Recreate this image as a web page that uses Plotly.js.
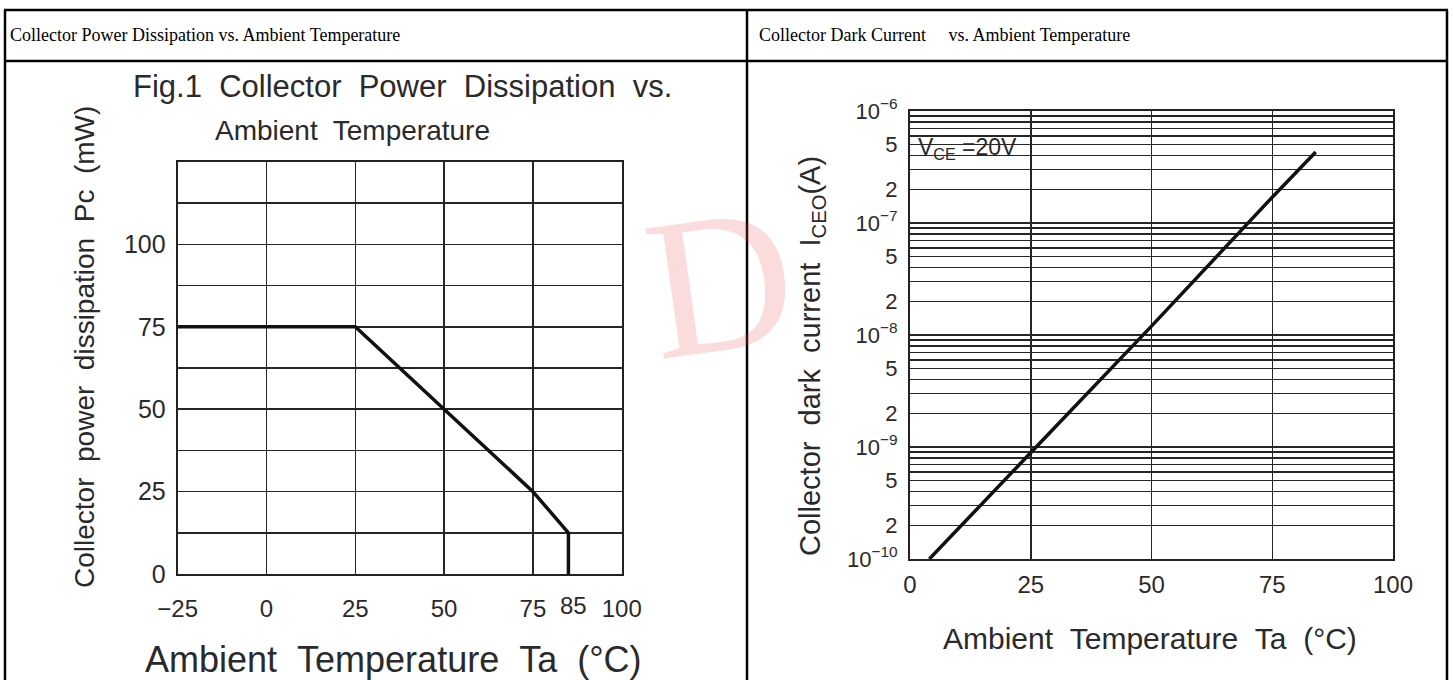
<!DOCTYPE html>
<html>
<head>
<meta charset="utf-8">
<script src="https://cdn.plot.ly/plotly-3.0.1.min.js"></script>
<style>
html,body{margin:0;padding:0;background:#ffffff;}
#chart{width:1453px;height:680px;}
</style>
</head>
<body>
<div id="chart"></div>
<script>
// ---------- data: Fig.1 collector power dissipation ----------
const pcTemp  = [-25, 25, 50, 75, 85, 85];
const pcPower = [75, 75, 50, 25, 12.5, 0];
const pcXTickVals = [-25, 0, 25, 50, 75, 100];
const pcXTickText = ['\u221225', '0', '25', '50', '75', '100'];
const pcXExtraVal = 85;
const pcXExtraText = '85';
const pcYTickVals = [0, 25, 50, 75, 100];
const pcYTickText = ['0', '25', '50', '75', '100'];
const pcYMinorVals = [12.5, 37.5, 62.5, 87.5, 112.5];

// ---------- data: collector dark current ----------
const iceoTemp    = [4, 25, 50, 75, 84];
const iceoCurrent = [1e-10, 9e-10, 1.2e-8, 1.7e-7, 4.3e-7];
const iceoXTicks  = [0, 25, 50, 75, 100];
const iceoDecades = [-10, -9, -8, -7, -6];
const iceoLabelledMantissas = [1, 2, 5];
const iceoMinorMantissas = [3, 4, 6, 7, 8, 9];
const iceoVce = 'V<sub>CE</sub> =20V';

// ---------- helpers ----------
const W = 1453, H = 680;
const px = v => v / W;
const py = v => 1 - v / H;
const FONT = 'Liberation Sans, Arial, sans-serif';
const SERIF = 'Liberation Serif, Times New Roman, serif';
const TXT = '#2a2a2a';
const GRID = '#262626';

const iceoTickVals = [], iceoTickText = [], iceoMinorVals = [];
iceoDecades.forEach((d, i) => {
  const last = i === iceoDecades.length - 1;
  iceoLabelledMantissas.forEach(m => {
    if (last && m > 1) return;
    iceoTickVals.push(m * Math.pow(10, d));
    iceoTickText.push(m === 1 ? '10<sup>\u2212' + (-d) + '</sup>' : String(m));
  });
  if (!last) iceoMinorMantissas.forEach(m => iceoMinorVals.push(m * Math.pow(10, d)));
});

const traces = [
  {x: pcTemp, y: pcPower, xaxis: 'x', yaxis: 'y', type: 'scatter', mode: 'lines',
   line: {color: '#111', width: 3.5}, hoverinfo: 'skip', showlegend: false},
  {x: iceoTemp, y: iceoCurrent, xaxis: 'x2', yaxis: 'y2', type: 'scatter', mode: 'lines',
   line: {color: '#111', width: 3.5}, hoverinfo: 'skip', showlegend: false}
];

const axisCommon = {
  showgrid: true, gridcolor: GRID, gridwidth: 1.5,
  showline: true, mirror: true, linecolor: '#222', linewidth: 2,
  zeroline: false, ticks: '', fixedrange: true, automargin: false,
  tickmode: 'array'
};

const nb = '\u00a0';
const sp2 = nb + nb;

const layout = {
  width: W, height: H, autosize: false,
  margin: {l: 0, r: 0, t: 0, b: 0, pad: 0},
  paper_bgcolor: '#ffffff', plot_bgcolor: '#ffffff',
  showlegend: false,
  xaxis: Object.assign({}, axisCommon, {
    domain: [px(177.7), px(621.7)], range: [-25, 100], anchor: 'y',
    tickvals: pcXTickVals, ticktext: pcXTickText,
    tickfont: {family: FONT, size: 24, color: TXT}, ticklabelstandoff: 12
  }),
  yaxis: Object.assign({}, axisCommon, {
    domain: [py(574), py(162)], range: [0, 125], anchor: 'x',
    tickvals: pcYTickVals, ticktext: pcYTickText,
    minor: {tickmode: 'array', tickvals: pcYMinorVals, showgrid: true, gridcolor: GRID, gridwidth: 1.5, ticks: ''},
    tickfont: {family: FONT, size: 25, color: TXT}, ticklabelstandoff: 5
  }),
  xaxis2: Object.assign({}, axisCommon, {
    domain: [px(910), px(1393)], range: [0, 100], anchor: 'y2',
    tickvals: iceoXTicks, ticktext: iceoXTicks.map(String),
    tickfont: {family: FONT, size: 24, color: TXT}, ticklabelstandoff: 3
  }),
  yaxis2: Object.assign({}, axisCommon, {
    domain: [py(559), py(111)], type: 'log', range: [-10, -6], anchor: 'x2',
    tickvals: iceoTickVals, ticktext: iceoTickText,
    minor: {tickmode: 'array', tickvals: iceoMinorVals, showgrid: true, gridcolor: GRID, gridwidth: 1.5, ticks: ''},
    tickfont: {family: FONT, size: 22, color: TXT}, ticklabelstandoff: 6
  }),
  shapes: [
    // table frame
    {type: 'line', xref: 'paper', yref: 'paper', x0: px(4), x1: px(1448), y0: py(10), y1: py(10), line: {color: '#000', width: 2.5}},
    {type: 'line', xref: 'paper', yref: 'paper', x0: px(4), x1: px(1448), y0: py(61), y1: py(61), line: {color: '#000', width: 2.5}},
    {type: 'line', xref: 'paper', yref: 'paper', x0: px(5), x1: px(5), y0: py(10), y1: py(681), line: {color: '#000', width: 2.5}},
    {type: 'line', xref: 'paper', yref: 'paper', x0: px(747), x1: px(747), y0: py(10), y1: py(681), line: {color: '#000', width: 2.5}},
    {type: 'line', xref: 'paper', yref: 'paper', x0: px(1447), x1: px(1447), y0: py(10), y1: py(681), line: {color: '#000', width: 2.5}},
    // V_CE label box (log axis -> log10 values)
    {type: 'rect', xref: 'x2', yref: 'y2', x0: 0, x1: 25, y0: Math.log10(2.6e-7), y1: -6,
     fillcolor: '#ffffff', line: {color: '#222', width: 1.5}, layer: 'above'}
  ],
  annotations: [
    // watermark fragment
    {xref: 'paper', yref: 'paper', x: px(720), y: py(282), text: 'D', showarrow: false,
     font: {family: SERIF, size: 200, color: 'rgba(236,80,80,0.20)'}, textangle: -8,
     xanchor: 'center', yanchor: 'middle'},
    // table headers
    {xref: 'paper', yref: 'paper', x: px(8), y: py(35), xanchor: 'left', yanchor: 'middle', showarrow: false,
     text: 'Collector Power Dissipation vs. Ambient Temperature', font: {family: SERIF, size: 18, color: '#000'}},
    {xref: 'paper', yref: 'paper', x: px(757), y: py(35), xanchor: 'left', yanchor: 'middle', showarrow: false,
     text: 'Collector Dark Current' + nb + nb + nb + nb + nb + 'vs. Ambient Temperature', font: {family: SERIF, size: 18, color: '#000'}},
    // Fig.1 title
    {xref: 'paper', yref: 'paper', x: px(131), y: py(86), xanchor: 'left', yanchor: 'middle', showarrow: false,
     text: 'Fig.1' + sp2 + 'Collector' + sp2 + 'Power' + sp2 + 'Dissipation' + sp2 + 'vs.', font: {family: FONT, size: 31, color: TXT}},
    {xref: 'paper', yref: 'paper', x: px(213), y: py(130), xanchor: 'left', yanchor: 'middle', showarrow: false,
     text: 'Ambient' + nb + ' ' + 'Temperature', font: {family: FONT, size: 28, color: TXT}},
    // left axis titles
    {xref: 'paper', yref: 'paper', x: px(84), y: py(347), xanchor: 'center', yanchor: 'middle', showarrow: false, textangle: -90,
     text: 'Collector' + sp2 + 'power' + sp2 + 'dissipation' + sp2 + 'Pc' + sp2 + '(mW)', font: {family: FONT, size: 28, color: TXT}},
    {xref: 'paper', yref: 'paper', x: px(394), y: py(659), xanchor: 'center', yanchor: 'middle', showarrow: false,
     text: 'Ambient' + sp2 + 'Temperature' + sp2 + 'Ta' + sp2 + '(\u00b0C)', font: {family: FONT, size: 36, color: TXT}},
    // extra "85" tick label
    {xref: 'x', yref: 'paper', x: pcXExtraVal + 1.5, y: py(605), xanchor: 'center', yanchor: 'middle', showarrow: false,
     text: pcXExtraText, font: {family: FONT, size: 24, color: TXT}},
    // right axis titles
    {xref: 'paper', yref: 'paper', x: px(812), y: py(356), xanchor: 'center', yanchor: 'middle', showarrow: false, textangle: -90,
     text: 'Collector' + sp2 + 'dark' + sp2 + 'current' + sp2 + 'I<sub>CEO</sub>(A)', font: {family: FONT, size: 29, color: TXT}},
    {xref: 'paper', yref: 'paper', x: px(1150), y: py(638), xanchor: 'center', yanchor: 'middle', showarrow: false,
     text: 'Ambient' + sp2 + 'Temperature' + sp2 + 'Ta' + sp2 + '(\u00b0C)', font: {family: FONT, size: 30, color: TXT}},
    // V_CE condition
    {xref: 'x2', yref: 'y2', x: 12, y: Math.log10(4.6e-7), xanchor: 'center', yanchor: 'middle', showarrow: false,
     text: iceoVce, font: {family: FONT, size: 23, color: TXT}}
  ]
};

Plotly.newPlot('chart', traces, layout, {staticPlot: true, displayModeBar: false});
</script>
</body>
</html>
